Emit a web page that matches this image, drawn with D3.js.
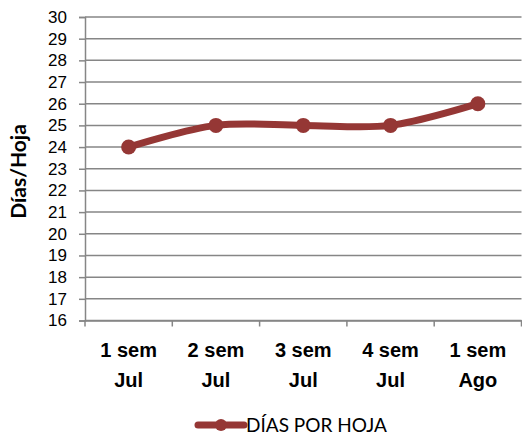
<!DOCTYPE html>
<html>
<head>
<meta charset="utf-8">
<script src="https://cdn.jsdelivr.net/npm/d3@7"></script>
<style>
  body { margin: 0; background: #fff; }
  svg { display: block; font-family: Lato, "Open Sans", sans-serif; }
</style>
</head>
<body>
<div id="chart"></div>
<script>
// data
var categories = ["1 sem|Jul", "2 sem|Jul", "3 sem|Jul", "4 sem|Jul", "1 sem|Ago"];
var diasPorHoja = [24, 25, 25, 25, 26];
var yTicks = d3.range(16, 31);
var seriesName = "DÍAS POR HOJA";
var yTitle = "Días/Hoja";

var width = 522, height = 436;
var margin = {top: 17, right: 0.5, bottom: 115.5, left: 85};
var innerW = width - margin.left - margin.right,
    innerH = height - margin.top - margin.bottom;

var lineColor = "#953735", gridColor = "#868686";

var svg = d3.select("#chart").append("svg")
    .attr("width", width)
    .attr("height", height);

var g = svg.append("g")
    .attr("transform", "translate(" + margin.left + "," + margin.top + ")");

var x = d3.scaleBand()
    .domain(categories)
    .range([0, innerW]);

var y = d3.scaleLinear()
    .domain([16, 30])
    .range([innerH, 0]);

// gridlines
g.append("g")
    .selectAll("line")
    .data(yTicks)
    .enter().append("line")
    .attr("x1", 0)
    .attr("x2", innerW)
    .attr("y1", d => y(d))
    .attr("y2", d => y(d))
    .attr("stroke", gridColor)
    .attr("stroke-width", 1.5);

// y axis
var yAxis = g.append("g")
    .call(d3.axisLeft(y).tickValues(yTicks).tickSize(6).tickPadding(12).tickFormat(d3.format("d")));
yAxis.select(".domain").attr("stroke", gridColor).attr("stroke-width", 1.5);
yAxis.selectAll(".tick line").attr("stroke", gridColor).attr("stroke-width", 1.5);
yAxis.selectAll(".tick text")
    .attr("fill", "#000")
    .style("font-size", "17px");

// x axis, ticks on band boundaries
var xAxis = g.append("g")
    .attr("transform", "translate(0," + innerH + ")")
    .call(d3.axisBottom(x).tickSize(0).tickFormat(""));
xAxis.select(".domain").attr("stroke", gridColor).attr("stroke-width", 1.5);
xAxis.selectAll(".tick").remove();

var bounds = categories.map(d => x(d)).concat([innerW]);
xAxis.selectAll("line.bound")
    .data(bounds)
    .enter().append("line")
    .attr("class", "bound")
    .attr("x1", d => d)
    .attr("x2", d => d)
    .attr("y1", 0)
    .attr("y2", 6)
    .attr("stroke", gridColor)
    .attr("stroke-width", 1.5);

var labels = xAxis.selectAll("text.cat")
    .data(categories)
    .enter().append("text")
    .attr("class", "cat")
    .attr("text-anchor", "middle")
    .attr("font-weight", "bold")
    .style("font-size", "20px")
    .attr("fill", "#000")
    .attr("transform", d => "translate(" + (x(d) + x.bandwidth() / 2) + ",0)");
labels.append("tspan").attr("x", 0).attr("y", 36.5).text(d => d.split("|")[0]);
labels.append("tspan").attr("x", 0).attr("y", 66.5).text(d => d.split("|")[1]);

// y title
svg.append("text")
    .attr("transform", "translate(26,171.5) rotate(-90)")
    .attr("text-anchor", "middle")
    .attr("font-weight", "bold")
    .style("font-size", "21px")
    .attr("fill", "#000")
    .text(yTitle);

// line
var pts = diasPorHoja.map((v, i) => [x(categories[i]) + x.bandwidth() / 2, y(v)]);
var line = d3.line().curve(d3.curveCatmullRom.alpha(0.5));

g.append("path")
    .attr("d", line(pts))
    .attr("fill", "none")
    .attr("stroke", lineColor)
    .attr("stroke-width", 7)
    .attr("stroke-linecap", "round")
    .attr("stroke-linejoin", "round");

g.selectAll("circle.pt")
    .data(diasPorHoja)
    .enter().append("circle")
    .attr("class", "pt")
    .attr("cx", (d, i) => x(categories[i]) + x.bandwidth() / 2)
    .attr("cy", d => y(d))
    .attr("r", 7.5)
    .attr("fill", lineColor);

// legend
var leg = svg.append("g").attr("transform", "translate(198,425)");
leg.append("line")
    .attr("x1", 0).attr("x2", 46)
    .attr("y1", 0).attr("y2", 0)
    .attr("stroke", lineColor)
    .attr("stroke-width", 7)
    .attr("stroke-linecap", "round");
leg.append("circle")
    .attr("cx", 23).attr("cy", 0).attr("r", 6)
    .attr("fill", lineColor);
leg.append("text")
    .attr("x", 48)
    .attr("dy", "0.36em")
    .style("font-size", "19px")
    .attr("fill", "#000")
    .text(seriesName);
</script>
</body>
</html>
